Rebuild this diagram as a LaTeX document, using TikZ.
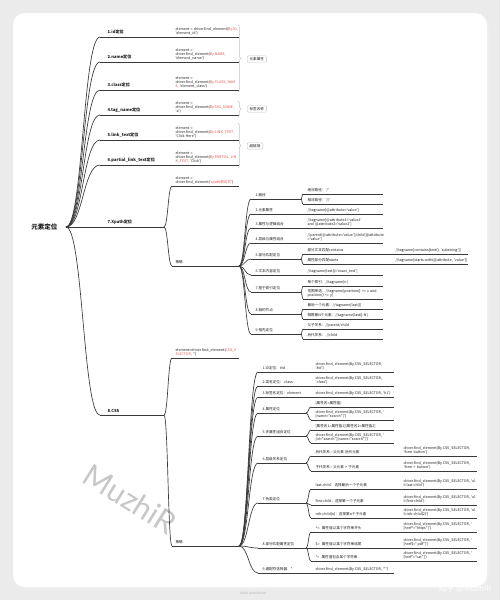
\documentclass[tikz,border=0pt]{standalone}
\usepackage{fontspec}
\newfontfamily\mmfont{Noto Sans CJK SC}
\newfontfamily\wmfont{Lato}
\usetikzlibrary{calc,decorations.pathreplacing}
\definecolor{pagebg}{HTML}{EBEBEB}
\definecolor{linegray}{HTML}{3A3A3A}
\definecolor{inkgray}{HTML}{1E1E1E}
\definecolor{codered}{HTML}{E5534B}
\definecolor{boxgray}{HTML}{C4C4C4}
\newcommand{\redtxt}[1]{\textcolor{codered}{#1}}
\newcommand{\smallfont}{\mmfont\fontsize{2.7}{3.0}\selectfont}
\hyphenpenalty=10000
\exhyphenpenalty=10000

\tikzset{every picture/.style={line width=0.75pt}}
\tikzset{
  mmline/.style={draw=linegray, line width=0.5pt},
  mm/.style={to path={let \p1=(\tikztostart), \p2=(\tikztotarget) in
    .. controls ({0.5*\x1+0.5*\x2},\y1) and ({0.5*\x1+0.5*\x2},\y2) .. (\tikztotarget)}},
  rootnode/.style={anchor=east, inner xsep=6pt, text=inkgray, font=\mmfont\bfseries\fontsize{4.9}{5.9}\selectfont},
  topic/.style={anchor=south west, align=left, inner ysep=1.1pt, text=inkgray, font=\smallfont},
  lone/.style={topic, inner xsep=5.25pt, inner ysep=1.6pt, text width=36.75pt, font=\mmfont\bfseries\fontsize{3.1}{3.7}\selectfont},
  ltwo/.style={topic, inner xsep=2.25pt, text width=45pt},
  xthree/.style={topic, inner xsep=3pt, text width=30.75pt},
  xfour/.style={topic, inner xsep=3pt, text width=53.25pt},
  xfive/.style={topic, inner xsep=3.75pt, text width=50.25pt},
  cthree/.style={topic, inner xsep=3pt, text width=29.25pt},
  cfour/.style={topic, inner xsep=3pt, text width=55.5pt},
  cfive/.style={topic, inner xsep=3.75pt, text width=51pt},
  tagbox/.style={anchor=west, draw=boxgray, line width=0.3pt, rounded corners=1pt, fill=white, inner xsep=1.8pt, inner ysep=1.2pt, text=inkgray, font=\smallfont},
  sumbrace/.style={draw=boxgray, line width=0.4pt, decorate, decoration={brace, amplitude=2.2pt}},
  wmark/.style={rotate=-32, text=black!22, font=\wmfont\fontsize{23}{23}\selectfont},
  footnote/.style={text=black!30, font=\mmfont\fontsize{2.4}{2.8}\selectfont},
  zhmark/.style={text=white, font=\mmfont\fontsize{6}{7}\selectfont},
}

\begin{document}
\begin{tikzpicture}[x=0.75pt,y=0.75pt,yscale=-1,xscale=1]
\useasboundingbox (0,0) rectangle (500,600);

%Shape: Rectangle [page and card]
\fill[pagebg] (0,0) rectangle (500,600);
\fill[black!7, rounded corners=9pt] (14,15) rectangle (489,590);
\fill[white, rounded corners=9pt] (13,13) rectangle (487,587);

% Watermarks
\node[wmark] (wm) at (130,499) {MuzhiR};
\node[footnote] (madewith) at (253,593) {Made with XMind};
\node[zhmark] (zhihu) at (465,589) {知乎 @MuzhiR};

% Text Node: root
\node[rootnode] (root) at (66,227) {元素定位};

% Text Node: level one
\node[lone] (id) at (100,37) {1.id定位};
\node[lone] (name) at (100,62) {2.name定位};
\node[lone] (cls) at (100,90) {3.class定位};
\node[lone] (tag) at (100,115) {4.tag\_name定位};
\node[lone] (link) at (100,140) {5.link\_text定位};
\node[lone] (plink) at (100,165) {6.partial\_link\_text定位};
\node[lone] (xpath) at (100,227) {7.Xpath定位};
\node[lone] (css) at (100,415) {8.CSS};

% Text Node: level two
\node[ltwo] (idc) at (172,37) {element~=~driver.find\_element(\redtxt{By.ID,}\\'element\_id')};
\node[ltwo] (namec) at (172,62) {element~=\\driver.find\_element(\redtxt{By.NAME,}\\'element\_name')};
\node[ltwo] (clsc) at (172,90) {element~=\\driver.find\_element(\redtxt{By.CLASS\_NAM}\\\redtxt{E,}~'element\_class')};
\node[ltwo] (tagc) at (172,115) {element~=\\driver.find\_element(\redtxt{By.TAG\_NAME,}\\'a')};
\node[ltwo] (linkc) at (172,140) {element~=\\driver.find\_element(\redtxt{By.LINK\_TEXT,}\\'Click~Here')};
\node[ltwo] (plinkc) at (172,165) {element~=\\driver.find\_element(\redtxt{By.PARTIAL\_LIN}\\\redtxt{K\_TEXT,}~'Click')};
\node[ltwo] (xpc) at (172,186) {element~=\\driver.find\_element(\redtxt{'xpath表达式'})};
\node[ltwo] (xps) at (172,266) {策略};
\node[ltwo] (cssc) at (172,358) {element=driver.find\_element(\redtxt{CSS\_S}\\\redtxt{ELECTOR,}~'')};
\node[ltwo] (csss) at (172,546) {策略};

% Text Node: Xpath strategies
\node[xthree] (x1) at (251,199) {1.路径};
\node[xthree] (x2) at (251,214) {2.元素属性};
\node[xthree] (x3) at (251,228) {3.属性与逻辑结合};
\node[xthree] (x4) at (251,243) {4.层级与属性结合};
\node[xthree] (x5) at (251,259) {5.部分匹配定位};
\node[xthree] (x6) at (251,275) {6.文本内容定位};
\node[xthree] (x7) at (251,292) {7.基于索引定位};
\node[xthree] (x8) at (251,314) {8.轴的节点};
\node[xthree] (x9) at (251,334) {9.祖先定位};

\node[xfour] (x1a) at (303,194) {绝对路径：'/'};
\node[xfour] (x1b) at (303,204) {相对路径：'//'};
\node[xfour] (x2a) at (303,214) {//tagname[@attribute='value']};
\node[xfour] (x3a) at (303,228) {//tagname[@attribute1='value1'\\and~@attribute2='value2']};
\node[xfour] (x4a) at (303,243) {//parent[@attribute='value']/child[@attribute\\='value']};
\node[xfour] (x5a) at (303,254) {部分文本匹配contains};
\node[xfour] (x5b) at (303,264) {属性部分匹配starts};
\node[xfour] (x6a) at (303,275) {//tagname[text()='exact\_text']};
\node[xfour] (x7a) at (303,286) {单个索引：//tagname[n]};
\node[xfour] (x7b) at (303,299) {范围筛选：//tagname[position()~>=~x~and\\position()~<=~y]};
\node[xfour] (x8a) at (303,309) {最后一个元素：//tagname[last()]};
\node[xfour] (x8b) at (303,319) {倒数第N个元素：//tagname[last()-N]};
\node[xfour] (x9a) at (303,329) {父子关系：//parent/child};
\node[xfour] (x9b) at (303,339) {后代关系：.//child};

\node[xfive] (x5a1) at (390,254) {//tagname[contains(text(),~'substring')]};
\node[xfive] (x5b1) at (390,264) {//tagname[starts-with(@attribute,~'value')]};

% Text Node: CSS strategies
\node[cthree] (c1) at (258,372) {1.ID定位：\#id};
\node[cthree] (c2) at (258,386) {2.类名定位：.class};
\node[cthree] (c3) at (258,397) {3.标签名定位：element};
\node[cthree] (c4) at (258,413) {4.属性定位};
\node[cthree] (c5) at (258,436) {5.多属性组合定位};
\node[cthree] (c6) at (258,463) {6.层级关系定位};
\node[cthree] (c7) at (258,503) {7.伪类定位};
\node[cthree] (c8) at (258,548) {8.部分匹配属性定位};
\node[cthree] (c9) at (258,573) {9.通配符选择器：*};

\node[cfour] (c1a) at (311,372) {driver.find\_element(By.CSS\_SELECTOR,\\'\#id')};
\node[cfour] (c2a) at (311,386) {driver.find\_element(By.CSS\_SELECTOR,\\'.class')};
\node[cfour] (c3a) at (311,397) {driver.find\_element(By.CSS\_SELECTOR,~'h1')};
\node[cfour] (c4a) at (311,407) {[属性名=属性值]};
\node[cfour] (c4b) at (311,420) {driver.find\_element(By.CSS\_SELECTOR,~'\\{}[name="search"]')};
\node[cfour] (c5a) at (311,430) {[属性名1=属性值1][属性名2=属性值2]};
\node[cfour] (c5b) at (311,443) {driver.find\_element(By.CSS\_SELECTOR,~'\\{}[id="search"][name="search"]')};
\node[cfour] (c6a) at (311,456) {后代关系—父元素~后代元素};
\node[cfour] (c6b) at (311,471) {子代关系—父元素~>~子元素};
\node[cfour] (c7a) at (311,489) {last-child：选择最后一个子元素};
\node[cfour] (c7b) at (311,505) {first-child：选择第一个子元素};
\node[cfour] (c7c) at (311,518) {nth-child(n)：选择第n个子元素};
\node[cfour] (c8a) at (311,532) {\textasciicircum=~~属性值以某个字符串开头};
\node[cfour] (c8b) at (311,548) {\$=~~属性值以某个字符串结尾};
\node[cfour] (c8c) at (311,561) {*=~~属性值包含某个字符串};
\node[cfour] (c9a) at (311,573) {driver.find\_element(By.CSS\_SELECTOR,~'*')};

\node[cfive] (c6a1) at (398,456) {driver.find\_element(By.CSS\_SELECTOR,\\'form~button')};
\node[cfive] (c6b1) at (398,471) {driver.find\_element(By.CSS\_SELECTOR,\\'form~>~button')};
\node[cfive] (c7a1) at (398,489) {driver.find\_element(By.CSS\_SELECTOR,~'ul\\li:last-child')};
\node[cfive] (c7b1) at (398,505) {driver.find\_element(By.CSS\_SELECTOR,~'ul\\li:first-child')};
\node[cfive] (c7c1) at (398,518) {driver.find\_element(By.CSS\_SELECTOR,~'ul\\li:nth-child(2)')};
\node[cfive] (c8a1) at (398,532) {driver.find\_element(By.CSS\_SELECTOR,~'\\{}[href\textasciicircum="https"]')};
\node[cfive] (c8b1) at (398,548) {driver.find\_element(By.CSS\_SELECTOR,~'\\{}[href\$=".pdf"]')};
\node[cfive] (c8c1) at (398,561) {driver.find\_element(By.CSS\_SELECTOR,~'\\{}[href*="cat"]')};

% Underlines
\foreach \nd in {id,name,cls,tag,link,plink,xpath,css,idc,namec,clsc,tagc,linkc,plinkc,xpc,xps,cssc,csss,
  x1,x2,x3,x4,x5,x6,x7,x8,x9,x1a,x1b,x2a,x3a,x4a,x5a,x5b,x6a,x7a,x7b,x8a,x8b,x9a,x9b,x5a1,x5b1,
  c1,c2,c3,c4,c5,c6,c7,c8,c9,c1a,c2a,c3a,c4a,c4b,c5a,c5b,c6a,c6b,c7a,c7b,c7c,c8a,c8b,c8c,c9a,
  c6a1,c6b1,c7a1,c7b1,c7c1,c8a1,c8b1,c8c1}
  \draw[mmline] (\nd.south west) -- (\nd.south east);

%Curve Lines
\foreach \dst in {id,name,cls,tag,link,plink,xpath,css}
  \draw[mmline] (root.east) to[mm] (\dst.south west);
\foreach \src/\dst in {id/idc,name/namec,cls/clsc,tag/tagc,link/linkc,plink/plinkc,xpath/xpc,xpath/xps,css/cssc,css/csss,
  xps/x1,xps/x2,xps/x3,xps/x4,xps/x5,xps/x6,xps/x7,xps/x8,xps/x9,
  x1/x1a,x1/x1b,x2/x2a,x3/x3a,x4/x4a,x5/x5a,x5/x5b,x6/x6a,x7/x7a,x7/x7b,x8/x8a,x8/x8b,x9/x9a,x9/x9b,x5a/x5a1,x5b/x5b1,
  csss/c1,csss/c2,csss/c3,csss/c4,csss/c5,csss/c6,csss/c7,csss/c8,csss/c9,
  c1/c1a,c2/c2a,c3/c3a,c4/c4a,c4/c4b,c5/c5a,c5/c5b,c6/c6a,c6/c6b,c7/c7a,c7/c7b,c7/c7c,c8/c8a,c8/c8b,c8/c8c,c9/c9a,
  c6a/c6a1,c6b/c6b1,c7a/c7a1,c7b/c7b1,c7c/c7c1,c8a/c8a1,c8b/c8b1,c8c/c8c1}
  \draw[mmline] (\src.south east) to[mm] (\dst.south west);

% Summary braces
\coordinate (b1t) at (238,25);  \coordinate (b1b) at (238,92);
\coordinate (b2t) at (238,101); \coordinate (b2b) at (238,117);
\coordinate (b3t) at (238,123); \coordinate (b3b) at (238,168);
\draw[sumbrace] (b1t) -- (b1b);
\draw[sumbrace] (b2t) -- (b2b);
\draw[sumbrace] (b3t) -- (b3b);
\node[tagbox] (attr) at (247,59) {元素属性};
\node[tagbox] (tagn) at (247,109) {标签名称};
\node[tagbox] (hlink) at (247,146) {超链接};

\end{tikzpicture}
\end{document}
